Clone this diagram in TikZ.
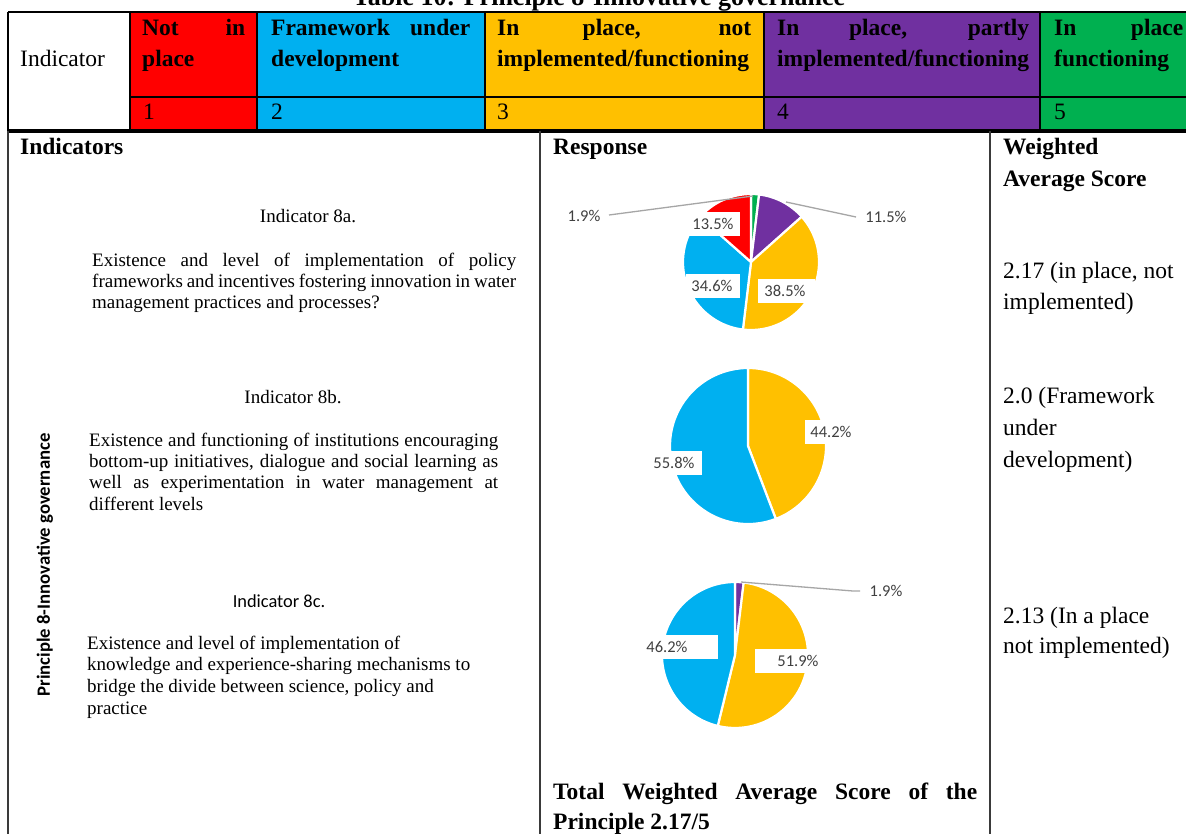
\documentclass[tikz,border=0pt]{standalone}
\usepackage{fontspec}
\setmainfont{Liberation Serif}
\newfontfamily\calib{Carlito}
\definecolor{cred}{HTML}{FF0000}
\definecolor{cblue}{HTML}{00B0F0}
\definecolor{cyel}{HTML}{FFC000}
\definecolor{cpur}{HTML}{7030A0}
\definecolor{cgrn}{HTML}{00B050}
\definecolor{labgray}{HTML}{404040}
\definecolor{leadgray}{HTML}{A6A6A6}
\definecolor{bodyline}{HTML}{3A3A3A}
\newcommand{\jl}[2]{\makebox[#1][s]{#2}}
\newcommand{\pieslice}[4]{\filldraw[fill=#4, wedge] (0,0) -- (#2:#1) arc[start angle=#2, end angle=#3, radius=#1] -- cycle;}
\tikzset{
 hb/.style={anchor=base west, inner sep=0pt, font=\fontsize{23.5}{28}\selectfont\bfseries},
 hr/.style={anchor=base west, inner sep=0pt, font=\fontsize{23.5}{28}\selectfont},
 pr/.style={anchor=base west, inner sep=0pt, font=\fontsize{19}{21}\selectfont},
 ps/.style={anchor=base, inner sep=0pt, font=\calib\fontsize{18.4}{21}\selectfont},
 plab/.style={inner sep=0pt, font=\calib\fontsize{16.5}{18}\selectfont, text=labgray},
 leader/.style={draw=leadgray, line width=1.3pt},
 gridline/.style={draw=black, line width=1.4pt},
 bline/.style={draw=bodyline, line width=2pt},
 wedge/.style={draw=white, line width=2.2pt, line join=round},
}
\begin{document}
\begin{tikzpicture}[x=1pt,y=-1pt]
\useasboundingbox (0,0) rectangle (1186,833);
\fill[white] (0,0) rectangle (1186,833);
% title (cut by page edge)
\node[anchor=base, inner sep=0pt, font=\fontsize{26}{30}\selectfont\bfseries] (title) at (599,5) {Table 10: Principle 8-Innovative governance};
% header fills
\fill[cred] (130,12) rectangle (257,130);
\fill[cblue] (257,12) rectangle (485,130);
\fill[cyel] (485,12) rectangle (764,130);
\fill[cpur] (764,12) rectangle (1040,130);
\fill[cgrn] (1040,12) rectangle (1192,130);
% header grid
\draw[gridline] (8,12) -- (1192,12);
\draw[gridline] (8,12) -- (8,130);
\draw[gridline] (130,12) -- (130,130);
\draw[gridline] (257,12) -- (257,130);
\draw[gridline] (485,12) -- (485,130);
\draw[gridline] (764,12) -- (764,130);
\draw[gridline] (1040,12) -- (1040,130);
\draw[gridline] (130,97) -- (1192,97);
\draw[gridline] (8,130) -- (1192,130);
% body grid
\draw[draw=black, line width=2.6pt] (7,131.5) -- (1192,131.5);
\draw[bline] (8,131) -- (8,840);
\draw[bline] (540,131) -- (540,840);
\draw[bline] (990,131) -- (990,840);
% header texts
\node[hr] (hind) at (20,66) {Indicator};
\node[hb] (h1a) at (142,35) {\jl{103pt}{Not in}};
\node[hb] (h1b) at (142,66) {place};
\node[hb] (h2a) at (271,35) {\jl{199pt}{Framework under}};
\node[hb] (h2b) at (271,66) {development};
\node[hb] (h3a) at (497,35) {\jl{254pt}{In place, not}};
\node[hb] (h3b) at (497,66) {implemented/functioning};
\node[hb] (h4a) at (777,35) {\jl{252pt}{In place, partly}};
\node[hb] (h4b) at (777,66) {implemented/functioning};
\node[hb] (h5a) at (1054,35) {\jl{129pt}{In place}};
\node[hb] (h5b) at (1054,66) {functioning};
\node[hr] (n1) at (143,119) {1};
\node[hr] (n2) at (271,119) {2};
\node[hr] (n3) at (497,119) {3};
\node[hr] (n4) at (777,119) {4};
\node[hr] (n5) at (1054,119) {5};
% column heads
\node[hb] (bi) at (20,154) {Indicators};
\node[hb] (br) at (553,154) {Response};
\node[hb] (bw1) at (1003,154) {Weighted};
\node[hb] (bw2) at (1003,186) {Average Score};
% indicator 8a
\node[pr, anchor=base] (i8a) at (308,222) {Indicator 8a.};
\node[pr] (p8a1) at (92,266) {\jl{424pt}{Existence and level of implementation of policy}};
\node[pr] (p8a2) at (92,287) {\jl{424pt}{frameworks and incentives fostering innovation in water}};
\node[pr] (p8a3) at (92,308) {management practices and processes?};
% indicator 8b
\node[pr, anchor=base] (i8b) at (293,403) {Indicator 8b.};
\node[pr] (p8b1) at (89,446) {\jl{409pt}{Existence and functioning of institutions encouraging}};
\node[pr] (p8b2) at (89,467) {\jl{409pt}{bottom-up initiatives, dialogue and social learning as}};
\node[pr] (p8b3) at (89,488) {\jl{409pt}{well as experimentation in water management at}};
\node[pr] (p8b4) at (89,510) {different levels};
% indicator 8c
\node[ps] (i8c) at (279,607) {Indicator 8c.};
\node[pr] (p8c1) at (87,649) {Existence and level of implementation of};
\node[pr] (p8c2) at (87,670) {knowledge and experience-sharing mechanisms to};
\node[pr] (p8c3) at (87,692) {bridge the divide between science, policy and};
\node[pr] (p8c4) at (87,714) {practice};
% vertical principle label
\node[rotate=90, inner sep=0pt, font=\calib\bfseries\fontsize{18.7}{20}\selectfont] (vt) at (45,565) {Principle 8-Innovative governance};
% scores
\node[hr] (s1a) at (1003,278) {2.17 (in place, not};
\node[hr] (s1b) at (1003,309) {implemented)};
\node[hr] (s2a) at (1003,403) {2.0 (Framework};
\node[hr] (s2b) at (1003,435) {under};
\node[hr] (s2c) at (1003,467) {development)};
\node[hr] (s3a) at (1003,623) {2.13 (In a place};
\node[hr] (s3b) at (1003,653) {not implemented)};
% total
\node[hb] (t1) at (553,799) {\jl{424pt}{Total Weighted Average Score of the}};
\node[hb] (t2) at (553,829) {Principle 2.17/5};
% pie 1
\begin{scope}[shift={(751,262)}, yscale=-1]
\pieslice{68}{90}{83.16}{cgrn}
\pieslice{68}{83.16}{41.76}{cpur}
\pieslice{68}{41.76}{-96.84}{cyel}
\pieslice{68}{-96.84}{-221.4}{cblue}
\pieslice{68}{-221.4}{-270}{cred}
\end{scope}
% pie 2
\begin{scope}[shift={(748,446)}, yscale=-1]
\pieslice{78}{90}{-69.12}{cyel}
\pieslice{78}{-69.12}{-270}{cblue}
\end{scope}
% pie 3
\begin{scope}[shift={(735,655)}, yscale=-1]
\pieslice{73}{90}{83.16}{cpur}
\pieslice{73}{83.16}{-103.68}{cyel}
\pieslice{73}{-103.68}{-270}{cblue}
\end{scope}
% label boxes
\fill[white] (688,212) rectangle (740,236);
\fill[white] (686,274) rectangle (740,298);
\fill[white] (758,279) rectangle (815,303);
\fill[white] (805,420) rectangle (853,444);
\fill[white] (652,451) rectangle (702,475);
\fill[white] (645,635) rectangle (718,659);
\fill[white] (755,649) rectangle (822,673);
% labels
\node[plab] (l1a) at (584,216) {1.9\%};
\node[plab] (l1b) at (713,224) {13.5\%};
\node[plab] (l1c) at (886,217) {11.5\%};
\node[plab] (l1d) at (712,286) {34.6\%};
\node[plab] (l1e) at (785,291) {38.5\%};
\node[plab] (l2a) at (831,432) {44.2\%};
\node[plab] (l2b) at (674,463) {55.8\%};
\node[plab] (l3a) at (886,591) {1.9\%};
\node[plab] (l3b) at (667,647) {46.2\%};
\node[plab] (l3c) at (798,661) {51.9\%};
% leaders
\coordinate (q1a) at (609,215);
\coordinate (q1b) at (753,196);
\coordinate (q2a) at (786,202);
\coordinate (q2b) at (856,217);
\coordinate (q3a) at (741,582);
\coordinate (q3b) at (853,591);
\coordinate (q3c) at (860,591);
\draw[leader] (q1a) -- (q1b);
\draw[leader] (q2a) -- (q2b);
\draw[leader] (q3a) -- (q3b) -- (q3c);
\end{tikzpicture}
\end{document}
